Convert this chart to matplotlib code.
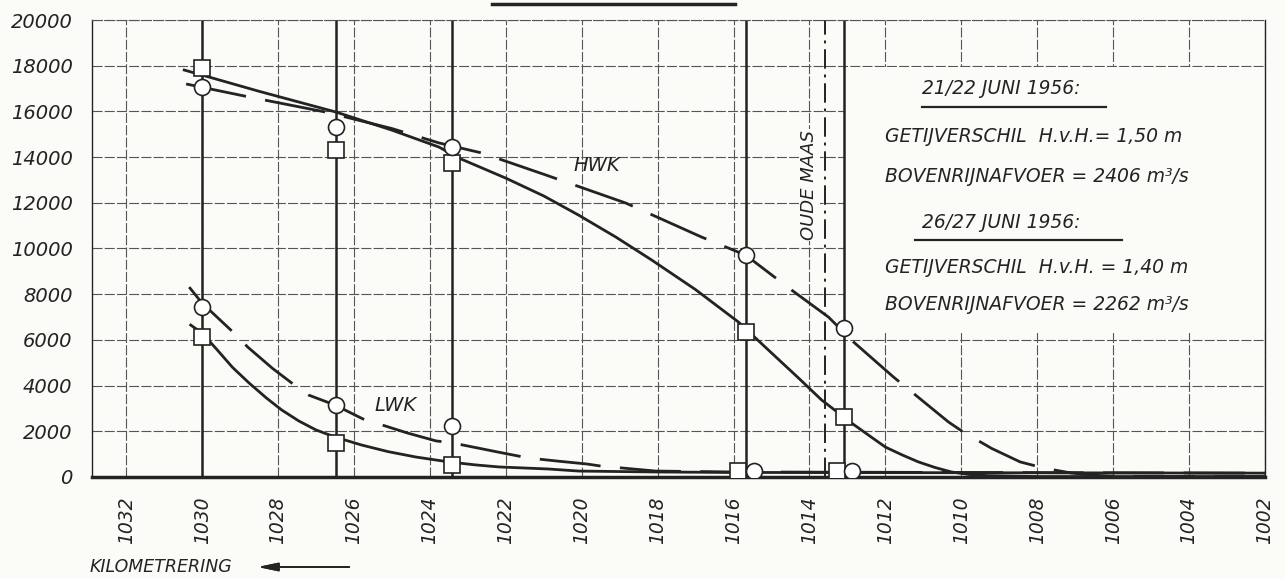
import numpy as np
import matplotlib.pyplot as plt
from matplotlib.patches import Rectangle
from matplotlib.lines import Line2D

# ---- data ----
# meetpunten langs de rivier (km)
stations = [1030.0, 1026.47, 1023.42, 1015.68, 1013.08]
oude_maas_km = 1013.58

# waarden bij de meetpunten: vierkant = 21/22 juni, cirkel = 26/27 juni
hwk_vierkant = [17900, 14310, 13740, 6345, 2630]
hwk_cirkel = [17070, 15320, 14440, 9710, 6520]
lwk_vierkant = [6130, 1490, 525, 260, 260]
lwk_cirkel = [7440, 3150, 2230, 260, 260]

# getrokken lijnen
hwk_vol_km = [1030.47, 1030.0, 1028.5, 1026.47, 1025.0, 1023.76, 1023.24, 1022.0,
              1021.0, 1020.08, 1019.1, 1018.16, 1017.0, 1015.87, 1015.0, 1014.3,
              1013.68, 1012.89, 1012.4, 1012.0, 1011.55, 1011.13, 1010.7, 1010.26,
              1009.8, 1009.3, 1008.0, 1002.0]
hwk_vol = [17810, 17590, 16880, 15970, 15180, 14440, 13960, 13080,
           12300, 11460, 10500, 9500, 8200, 6780, 5430, 4350,
           3370, 2360, 1780, 1310, 960, 660, 420, 220,
           110, 60, 20, 20]

hwk_stip_km = [1030.42, 1028.76, 1026.74, 1025.0, 1023.76, 1022.63, 1020.95, 1018.84,
               1016.84, 1015.68, 1014.47, 1013.5, 1012.84, 1011.79, 1010.34, 1009.95,
               1009.2, 1008.45, 1007.8, 1007.1, 1006.6, 1006.1, 1005.0, 1002.0]
hwk_stip = [17200, 16630, 15970, 15250, 14620, 14180, 13220, 11990,
            10500, 9710, 8180, 7000, 5910, 4380, 2410, 1970,
            1250, 660, 380, 175, 90, 40, 20, 20]

lwk_vol_km = [1030.3, 1030.0, 1029.6, 1029.2, 1028.76, 1028.3, 1027.9, 1027.45,
              1027.0, 1026.5, 1025.8, 1025.1, 1024.37, 1023.5, 1022.8, 1022.18,
              1020.87, 1020.08, 1018.05, 1016.0, 1002.0]
lwk_vol = [6650, 6300, 5560, 4800, 4110, 3450, 2930, 2450,
           2060, 1750, 1400, 1110, 875, 660, 530, 440,
           350, 260, 220, 200, 170]

lwk_stip_km = [1030.34, 1030.0, 1029.1, 1028.8, 1028.15, 1027.5, 1027.2, 1026.5,
               1025.7, 1025.34, 1024.6, 1023.84, 1023.4, 1022.2, 1021.4, 1020.6,
               1019.87, 1019.5, 1018.05, 1016.0, 1002.0]
lwk_stip = [8310, 7610, 6210, 5690, 4760, 3940, 3590, 3150,
            2490, 2320, 1930, 1580, 1490, 1090, 830, 690,
            570, 480, 260, 220, 170]

x_ticks = list(range(1032, 1001, -2))
y_ticks = list(range(0, 20001, 2000))

# ---- figuur ----
W, H = 1285, 579
ink = '#232323'
papier = '#fbfbf8'
plt.rcParams['font.family'] = ['DejaVu Sans']

fig = plt.figure(figsize=(W / 100, H / 100), dpi=100, facecolor=papier)
ax = fig.add_axes([92 / W, 1 - 477 / H, (1265 - 92) / W, (477 - 20) / H])
ax.set_facecolor(papier)

def fx(px):
    return px / W

def fy(py):
    return 1 - py / H

ax.set_xlim(1032.9, 1002.0)
ax.set_ylim(0, 20000)
ax.set_xticks(x_ticks)
ax.set_yticks(y_ticks)
ax.set_xticklabels([str(k) for k in x_ticks], rotation=90, fontsize=13.5,
                   fontstyle='italic', color=ink)
ax.set_yticklabels([str(v) for v in y_ticks], fontsize=14, fontstyle='italic', color=ink)
ax.tick_params(axis='both', length=0)
ax.tick_params(axis='x', pad=14)
ax.tick_params(axis='y', pad=14)

ax.set_axisbelow(True)
ax.grid(True, color='#555555', lw=0.8, ls=(0, (9, 2)))

for s in ['left', 'right']:
    ax.spines[s].set_color(ink)
    ax.spines[s].set_linewidth(1.0)
ax.spines['top'].set_color('#555555')
ax.spines['top'].set_linewidth(0.8)
ax.spines['top'].set_linestyle((0, (9, 2)))
ax.spines['bottom'].set_color(ink)
ax.spines['bottom'].set_linewidth(2.5)

# wit vlak voor de toelichting
ax.add_patch(Rectangle((stations[-1], 6300), 1002.0 - stations[-1], 17930 - 6300,
                       facecolor=papier, edgecolor='none', zorder=1.0))

# meetpunten en Oude Maas
for k in stations:
    ax.axvline(k, color=ink, lw=1.8, zorder=1.5)
ax.axvline(oude_maas_km, color=ink, lw=1.4, ls=(0, (10, 3, 1.5, 3)), zorder=1.5)

# lijnen
ax.plot(hwk_vol_km, hwk_vol, color=ink, lw=2.0, zorder=3)
ax.plot(hwk_stip_km, hwk_stip, color=ink, lw=2.0, dashes=(22, 7), zorder=3)
ax.plot(lwk_vol_km, lwk_vol, color=ink, lw=2.0, zorder=3)
ax.plot(lwk_stip_km, lwk_stip, color=ink, lw=2.0, dashes=(22, 7), zorder=3)

# markers (bij de lage meetwaarden iets naast elkaar gezet)
lwk_x_vk = [k + (0.19 if i >= 3 else 0) for i, k in enumerate(stations)]
lwk_x_ci = [k - (0.21 if i >= 3 else 0) for i, k in enumerate(stations)]
mk = dict(ls='none', ms=11.5, mfc='white', mec=ink, mew=1.2, zorder=5)
ax.plot(stations, hwk_vierkant, marker='s', **mk)
ax.plot(stations, hwk_cirkel, marker='o', **mk)
ax.plot(lwk_x_vk, lwk_vierkant, marker='s', **mk)
ax.plot(lwk_x_ci, lwk_cirkel, marker='o', **mk)

# labels in de grafiek
ax.text(1019.6, 13650, 'HWK', fontsize=14, fontstyle='italic', color=ink,
        ha='center', va='center', zorder=6)
ax.text(1024.9, 3150, 'LWK', fontsize=14, fontstyle='italic', color=ink,
        ha='center', va='center', zorder=6)
ax.text(1014.0, 12780, 'OUDE MAAS', fontsize=13, fontstyle='italic', color=ink,
        rotation=90, ha='center', va='center', zorder=6,
        bbox=dict(facecolor=papier, edgecolor='none', pad=1))

# toelichting
tk = dict(fontsize=13.5, fontstyle='italic', color=ink, va='center')
fig.text(fx(922), fy(89), '21/22 JUNI 1956:', **tk)
fig.text(fx(885), fy(137), 'GETIJVERSCHIL  H.v.H.= 1,50 m', **tk)
fig.text(fx(885), fy(176), 'BOVENRIJNAFVOER = 2406 m³/s', **tk)
fig.text(fx(922), fy(222), '26/27 JUNI 1956:', **tk)
fig.text(fx(885), fy(268), 'GETIJVERSCHIL  H.v.H. = 1,40 m', **tk)
fig.text(fx(885), fy(304), 'BOVENRIJNAFVOER = 2262 m³/s', **tk)
fig.add_artist(Line2D([fx(922), fx(1106)], [fy(107), fy(107)], color=ink, lw=1.6))
fig.add_artist(Line2D([fx(915), fx(1122)], [fy(240), fy(240)], color=ink, lw=1.6))

# streep bovenaan
fig.add_artist(Line2D([fx(492), fx(735)], [fy(4), fy(4)], color=ink, lw=2.5))

# as-titel met pijl
fig.text(fx(90), fy(567), 'KILOMETRERING', fontsize=12.5, fontstyle='italic',
         color=ink, va='center')
fig.add_artist(plt.annotate('', xy=(fx(255), fy(567)), xytext=(fx(352), fy(567)),
                            xycoords='figure fraction', textcoords='figure fraction',
                            arrowprops=dict(arrowstyle='-|>,head_length=1.2,head_width=0.25',
                                            color=ink, lw=1.3)))

fig.savefig('out.png', dpi=100, facecolor=papier)
